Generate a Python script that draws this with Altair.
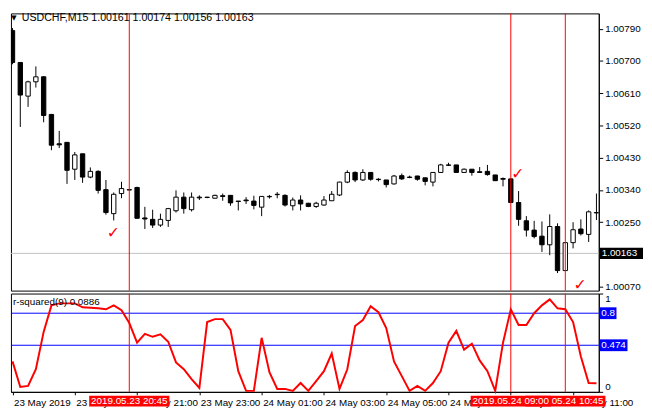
import altair as alt
import pandas as pd

# USDCHF M15 bars from 23 May 2019 17:00 (bar 0) to 24 May 2019 12:00 (bar 76)
opens = [1.00785, 1.00696, 1.00602, 1.00642, 1.00656, 1.00551, 1.00469, 1.00473, 1.00398, 1.00441,
         1.00376, 1.00392, 1.00341, 1.00274, 1.00330, 1.00341, 1.00347, 1.00262, 1.00258, 1.00242,
         1.00255, 1.00282, 1.00320, 1.00285, 1.00320, 1.00320, 1.00317, 1.00324, 1.00325, 1.00309,
         1.00312, 1.00309, 1.00292, 1.00321, 1.00327, 1.00325, 1.00296, 1.00312, 1.00303, 1.00294,
         1.00298, 1.00310, 1.00326, 1.00362, 1.00389, 1.00368, 1.00389, 1.00370, 1.00368, 1.00357,
         1.00380, 1.00376, 1.00379, 1.00374, 1.00362, 1.00389, 1.00410, 1.00410, 1.00389, 1.00398,
         1.00391, 1.00392, 1.00382, 1.00372, 1.00371, 1.00305, 1.00254, 1.00228, 1.00211, 1.00187,
         1.00238, 1.00115, 1.00193, 1.00231, 1.00216, 1.00276, 1.00161]
highs = [1.00792, 1.00696, 1.00645, 1.00685, 1.00658, 1.00551, 1.00505, 1.00473, 1.00446, 1.00441,
         1.00403, 1.00395, 1.00368, 1.00333, 1.00363, 1.00342, 1.00349, 1.00293, 1.00285, 1.00274,
         1.00290, 1.00339, 1.00333, 1.00333, 1.00325, 1.00321, 1.00327, 1.00330, 1.00326, 1.00309,
         1.00320, 1.00324, 1.00323, 1.00326, 1.00334, 1.00328, 1.00319, 1.00325, 1.00304, 1.00307,
         1.00323, 1.00337, 1.00363, 1.00395, 1.00392, 1.00398, 1.00390, 1.00373, 1.00368, 1.00382,
         1.00386, 1.00380, 1.00380, 1.00374, 1.00390, 1.00413, 1.00416, 1.00410, 1.00400, 1.00398,
         1.00404, 1.00410, 1.00382, 1.00375, 1.00373, 1.00337, 1.00267, 1.00254, 1.00252, 1.00272,
         1.00247, 1.00194, 1.00250, 1.00258, 1.00283, 1.00330, 1.00174]
lows = [1.00691, 1.00516, 1.00572, 1.00626, 1.00529, 1.00451, 1.00457, 1.00357, 1.00368, 1.00360,
        1.00373, 1.00330, 1.00271, 1.00255, 1.00317, 1.00339, 1.00260, 1.00231, 1.00234, 1.00237,
        1.00237, 1.00277, 1.00274, 1.00280, 1.00312, 1.00317, 1.00316, 1.00310, 1.00296, 1.00283,
        1.00301, 1.00286, 1.00267, 1.00316, 1.00317, 1.00294, 1.00283, 1.00283, 1.00292, 1.00290,
        1.00296, 1.00310, 1.00323, 1.00359, 1.00362, 1.00365, 1.00366, 1.00364, 1.00347, 1.00355,
        1.00368, 1.00373, 1.00366, 1.00353, 1.00350, 1.00388, 1.00407, 1.00389, 1.00389, 1.00380,
        1.00388, 1.00380, 1.00365, 1.00350, 1.00305, 1.00240, 1.00210, 1.00205, 1.00167, 1.00158,
        1.00108, 1.00115, 1.00177, 1.00213, 1.00195, 1.00256, 1.00156]
closes = [1.00696, 1.00605, 1.00642, 1.00656, 1.00548, 1.00465, 1.00466, 1.00395, 1.00438, 1.00376,
          1.00392, 1.00339, 1.00277, 1.00328, 1.00344, 1.00340, 1.00261, 1.00259, 1.00242, 1.00258,
          1.00288, 1.00320, 1.00288, 1.00320, 1.00318, 1.00319, 1.00325, 1.00322, 1.00304, 1.00308,
          1.00310, 1.00297, 1.00322, 1.00322, 1.00328, 1.00298, 1.00312, 1.00301, 1.00294, 1.00303,
          1.00312, 1.00328, 1.00362, 1.00389, 1.00368, 1.00389, 1.00370, 1.00369, 1.00355, 1.00379,
          1.00371, 1.00375, 1.00370, 1.00364, 1.00389, 1.00410, 1.00409, 1.00389, 1.00398, 1.00389,
          1.00389, 1.00383, 1.00366, 1.00370, 1.00305, 1.00258, 1.00228, 1.00210, 1.00187, 1.00238,
          1.00115, 1.00193, 1.00229, 1.00218, 1.00279, 1.00277, 1.00163]

# r-squared(9) for bars 0..75
r_squared = [0.31, 0.05, 0.06, 0.23, 0.61, 0.88, 0.90, 0.90, 0.90, 0.86,
             0.855, 0.85, 0.84, 0.88, 0.83, 0.70, 0.50, 0.59, 0.56, 0.585,
             0.51, 0.30, 0.23, 0.13, 0.04, 0.71, 0.74, 0.74, 0.63, 0.21,
             0.01, 0.01, 0.55, 0.20, 0.03, 0.03, 0.01, 0.09, 0.01, 0.11,
             0.21, 0.39, 0.03, 0.23, 0.67, 0.73, 0.87, 0.81, 0.65, 0.31,
             0.16, 0.01, 0.06, 0.01, 0.09, 0.21, 0.50, 0.62, 0.43, 0.49,
             0.32, 0.21, 0.01, 0.50, 0.84, 0.68, 0.68, 0.80, 0.88, 0.94,
             0.85, 0.84, 0.71, 0.36, 0.09, 0.0886]

bid_price = 1.00163
price_ticks = [1.00790, 1.00700, 1.00610, 1.00520, 1.00430, 1.00340, 1.00250, 1.00070]
time_ticks = [0, 8, 16, 24, 32, 40, 48, 56, 64, 72]
time_labels = ["23 May 2019", "23 May 19:00", "23 May 21:00", "23 May 23:00", "24 May 01:00",
               "24 May 03:00", "24 May 05:00", "24 May 07:00", "24 May 09:00", "24 May 11:00"]
# drawn in this order, so the 09:00 box lies over the 10:45 one
cursor_bars = [15, 71, 64]
cursor_labels = ["2019.05.23 20:45", "2019.05.24 10:45", "2019.05.24 09:00"]
check_bars = [12.96, 64.9, 72.9]
check_prices = [1.00220, 1.00384, 1.00074]
levels = [0.8, 0.474]
level_labels = ["0.8", "0.474"]
title_text = "USDCHF,M15  1.00161 1.00174 1.00156 1.00163"
indicator_text = "r-squared(9) 0.0886"

W, H1, H2 = 598, 282, 100
FONT = "Liberation Sans"

x_scale = alt.Scale(domain=[-0.2, 75.3], nice=False, zero=False)
price_scale = alt.Scale(domain=[1.000591, 1.00833], nice=False, zero=False)
r2_scale = alt.Scale(domain=[0, 1], nice=False, zero=False)

price_axis = alt.Axis(orient="right", values=price_ticks, format=".5f", title=None,
                      tickSize=4, labelPadding=2)
r2_axis = alt.Axis(orient="right", values=[0, 1], format="d", title=None,
                   tickSize=4, labelPadding=2, labelFlush=True)
label_expr = "[" + ", ".join(f"'{t}'" for t in time_labels) + "][round(datum.value / 8)]"
time_axis = alt.Axis(values=time_ticks, labelExpr=label_expr, labelAlign="left", labelFlush=False,
                     labelOverlap=False, labelOffset=1, tickSize=3, labelPadding=3, title=None)

bars = pd.DataFrame({"i": range(len(opens)), "open": opens, "high": highs,
                     "low": lows, "close": closes})
bars["dir"] = ["up" if c >= o else "down" for o, c in zip(opens, closes)]
bars["left"] = bars["i"] - 0.28
bars["right"] = bars["i"] + 0.28

bid = pd.DataFrame({"price": [bid_price], "lo": [bid_price - 0.00016],
                    "hi": [bid_price + 0.00016], "text": [f"{bid_price:.5f}"]})
cursors = pd.DataFrame({"i": cursor_bars, "label": cursor_labels})
cursors["a"] = cursors["i"] - 5.15
cursors["b"] = cursors["i"] + 5.15
checks = pd.DataFrame({"i": check_bars, "price": check_prices})


def px(field):
    return alt.X(field, scale=x_scale, axis=None)


def py(field):
    return alt.Y(field, scale=price_scale, axis=price_axis)


# --- price panel ---
bid_line = alt.Chart(bid).mark_rule(color="#c0c0c0").encode(y=py("price:Q"))
wicks = alt.Chart(bars).mark_rule(color="black", clip=True).encode(
    x=px("i:Q"), y=py("low:Q"), y2="high"
)
bodies = alt.Chart(bars).mark_rect(stroke="black", strokeWidth=1, clip=True).encode(
    x=px("left:Q"),
    x2="right",
    y=py("open:Q"),
    y2="close",
    fill=alt.Fill("dir:N", scale=alt.Scale(domain=["up", "down"], range=["white", "black"]),
                  legend=None),
)
vlines_top = alt.Chart(cursors).mark_rule(color="red").encode(x=px("i:Q"))
check_marks = alt.Chart(checks).mark_text(text="✓", color="red", fontSize=16,
                                          font="DejaVu Sans").encode(x=px("i:Q"), y=py("price:Q"))
arrow = alt.Chart(pd.DataFrame({"t": ["▼"]})).mark_text(
    fontSize=7, font="DejaVu Sans", color="black"
).encode(x=alt.value(3), y=alt.value(5), text="t:N")
title = alt.Chart(pd.DataFrame({"t": [title_text]})).mark_text(
    align="left", fontSize=10.8, font=FONT, color="black"
).encode(x=alt.value(11), y=alt.value(5), text="t:N")
bid_box = alt.Chart(bid).mark_rect(color="black").encode(
    x=alt.value(W + 1), x2=alt.value(W + 45), y=py("lo:Q"), y2="hi"
)
bid_text = alt.Chart(bid).mark_text(align="left", color="white", fontSize=10, font=FONT).encode(
    x=alt.value(W + 3), y=py("price:Q"), text="text:N"
)

price_panel = alt.layer(
    bid_line, wicks, bodies, vlines_top, check_marks, arrow, title, bid_box, bid_text
).properties(width=W, height=H1)

# --- r-squared panel ---
r2 = pd.DataFrame({"i": range(len(r_squared)), "r2": r_squared})
lv = pd.DataFrame({"level": levels, "label": level_labels})

level_rules = alt.Chart(lv).mark_rule(color="blue").encode(
    y=alt.Y("level:Q", scale=r2_scale, axis=r2_axis)
)
r2_line = alt.Chart(r2).mark_line(color="red", strokeWidth=2).encode(
    x=alt.X("i:Q", scale=x_scale, axis=time_axis),
    y=alt.Y("r2:Q", scale=r2_scale, axis=r2_axis),
)
vlines_bottom = alt.Chart(cursors).mark_rule(color="red").encode(
    x=alt.X("i:Q", scale=x_scale, axis=time_axis)
)
ind_label = alt.Chart(pd.DataFrame({"t": [indicator_text]})).mark_text(
    align="left", fontSize=10, font=FONT, color="black"
).encode(x=alt.value(2), y=alt.value(9), text="t:N")

layers = [level_rules, r2_line, vlines_bottom, ind_label]

for level, label in zip(levels, level_labels):
    box_w = 3 + 5.6 * len(label.replace(".", "")) + 2.8 * label.count(".")
    row = pd.DataFrame({"lo": [level - 0.06], "hi": [level + 0.06], "level": [level], "t": [label]})
    layers.append(alt.Chart(row).mark_rect(color="blue").encode(
        x=alt.value(W + 1), x2=alt.value(W + 1 + box_w),
        y=alt.Y("lo:Q", scale=r2_scale, axis=r2_axis), y2="hi",
    ))
    layers.append(alt.Chart(row).mark_text(align="left", color="white", fontSize=10, font=FONT).encode(
        x=alt.value(W + 2.5), y=alt.Y("level:Q", scale=r2_scale, axis=r2_axis), text="t:N",
    ))

for k in range(len(cursors)):
    row = cursors.iloc[[k]]
    layers.append(alt.Chart(row).mark_rect(color="red").encode(
        x=alt.X("a:Q", scale=x_scale, axis=time_axis), x2="b",
        y=alt.value(H2 + 4), y2=alt.value(H2 + 15),
    ))
    layers.append(alt.Chart(row).mark_text(color="white", fontSize=10, font=FONT).encode(
        x=alt.X("i:Q", scale=x_scale, axis=time_axis), y=alt.value(H2 + 9.5), text="label:N",
    ))

indicator_panel = alt.layer(*layers).properties(width=W, height=H2)

chart = (
    alt.vconcat(price_panel, indicator_panel, spacing=3, bounds="flush")
    .properties(padding=0, background="white")
    .configure_view(stroke="black", strokeWidth=1)
    .configure_axis(labelFont=FONT, labelFontSize=10, labelColor="black", tickColor="black",
                    domainColor="black", grid=False)
)

chart.save("out.html", embed_options={"renderer": "svg", "actions": False})
